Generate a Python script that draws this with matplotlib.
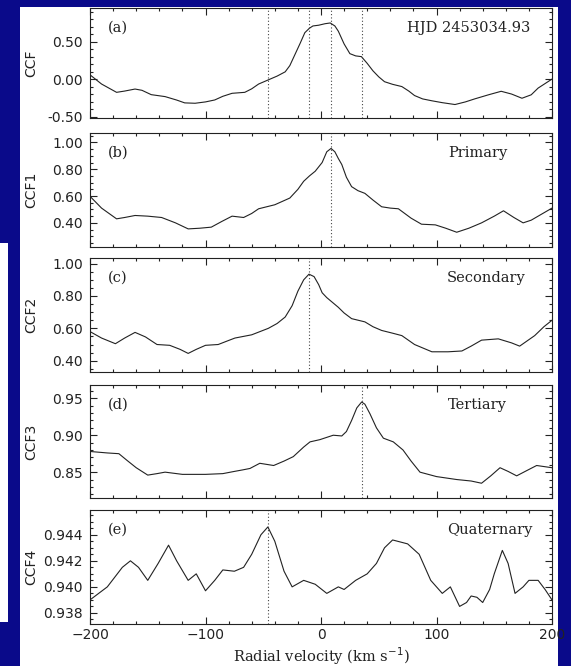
import matplotlib
matplotlib.use("Agg")
import matplotlib.pyplot as plt
from matplotlib.ticker import MultipleLocator, FormatStrFormatter
from matplotlib.patches import Rectangle

# ---------------- data ----------------
ccf_x = [-200, -190, -177, -170, -161, -155, -147, -135, -125, -118, -109, -100, -92, -85, -77,
         -66, -60, -54, -46, -38, -31, -27, -22.5, -18, -14, -10, -7, -2, 3.5, 8, 12, 15, 20,
         25, 30, 35, 40, 45, 50, 55, 62, 70, 76, 81, 88, 96, 105, 116, 125, 133, 145, 156,
         165, 174, 182, 188, 200]
ccf_y = [0.057, -0.066, -0.177, -0.160, -0.133, -0.150, -0.208, -0.234, -0.280, -0.318,
         -0.323, -0.305, -0.279, -0.230, -0.190, -0.177, -0.130, -0.066, -0.013, 0.040, 0.097,
         0.180, 0.330, 0.480, 0.620, 0.680, 0.710, 0.720, 0.740, 0.750, 0.710, 0.640, 0.470,
         0.340, 0.310, 0.300, 0.210, 0.110, 0.030, -0.035, -0.070, -0.100, -0.160, -0.220,
         -0.265, -0.290, -0.315, -0.340, -0.305, -0.265, -0.210, -0.163, -0.200, -0.256,
         -0.210, -0.120, 0.0]

ccf1_x = [-200, -190, -177, -170, -161, -150, -138, -126, -115, -105, -95, -86, -77, -67, -60,
          -54, -40, -27, -20, -15, -10, -5, 1, 5, 8.7, 12, 15, 18, 22, 26.5, 32, 38, 45, 52.5,
          60, 67, 78, 87, 99, 108, 117.5, 128, 139, 150, 158, 167, 175, 182, 188, 200]
ccf1_y = [0.598, 0.51, 0.43, 0.440, 0.455, 0.450, 0.44, 0.40, 0.355, 0.360, 0.368, 0.41,
          0.45, 0.44, 0.470, 0.505, 0.535, 0.585, 0.650, 0.71, 0.750, 0.785, 0.850, 0.930,
          0.955, 0.930, 0.880, 0.835, 0.740, 0.67, 0.640, 0.62, 0.570, 0.52, 0.510, 0.505,
          0.435, 0.39, 0.385, 0.360, 0.33, 0.360, 0.40, 0.450, 0.49, 0.440, 0.40, 0.420,
          0.45, 0.51]

ccf2_x = [-200, -190, -178, -170, -161, -152, -142, -131, -122, -115, -108, -100, -89, -80,
          -74.5, -60, -45.6, -38, -31, -25, -20, -15, -10.4, -6, -2, 1, 5, 10, 15, 20, 26.5,
          38, 45, 52.5, 62, 70, 81, 96, 110, 122, 130, 139, 153.5, 165, 172, 185, 193, 200]
ccf2_y = [0.58, 0.54, 0.505, 0.540, 0.575, 0.547, 0.50, 0.495, 0.470, 0.445, 0.470, 0.495,
          0.50, 0.525, 0.54, 0.56, 0.60, 0.630, 0.67, 0.740, 0.83, 0.900, 0.935, 0.920, 0.87,
          0.820, 0.79, 0.760, 0.73, 0.695, 0.66, 0.64, 0.610, 0.587, 0.570, 0.555, 0.50,
          0.455, 0.455, 0.46, 0.490, 0.527, 0.535, 0.510, 0.49, 0.555, 0.610, 0.65]

ccf3_x = [-200, -185, -175, -168, -160, -150, -142, -135, -120, -100, -85, -75, -68, -61.5,
          -53, -41, -32, -24, -15, -9.5, -1, 10.6, 18, 22, 26.5, 31, 35.2, 38, 42.4, 48, 54,
          62.6, 71, 78, 85.7, 100, 117.5, 130, 139, 147, 155, 162, 169.4, 178, 186.7, 200]
ccf3_y = [0.878, 0.876, 0.875, 0.866, 0.856, 0.846, 0.848, 0.850, 0.847, 0.847, 0.848,
          0.851, 0.853, 0.855, 0.862, 0.859, 0.865, 0.871, 0.884, 0.891, 0.894, 0.900, 0.899,
          0.905, 0.920, 0.937, 0.945, 0.942, 0.929, 0.910, 0.896, 0.891, 0.880, 0.865, 0.850,
          0.844, 0.840, 0.838, 0.835, 0.845, 0.856, 0.851, 0.845, 0.852, 0.859, 0.856]

ccf4_x = [-200, -185, -172, -165, -158, -150, -141, -132, -125, -115, -108, -100, -92, -85,
          -75, -67, -60, -52, -46, -40, -32, -25, -15, -5, 5, 15, 20, 30, 40, 48, 55, 62, 75,
          85, 95, 105, 112, 120, 126, 130, 135, 140, 146, 150, 157, 162, 168, 175, 180, 188,
          194, 200]
ccf4_y = [0.9390, 0.9400, 0.9415, 0.9420, 0.9415, 0.9405, 0.9418, 0.9432, 0.9420, 0.9405,
          0.9410, 0.9397, 0.9405, 0.9413, 0.9412, 0.9415, 0.9425, 0.9440, 0.9446, 0.9435,
          0.9412, 0.9400, 0.9405, 0.9402, 0.9395, 0.9400, 0.9398, 0.9405, 0.9410, 0.9418,
          0.9430, 0.9436, 0.9433, 0.9425, 0.9405, 0.9395, 0.9400, 0.9385, 0.9388, 0.9393,
          0.9392, 0.9388, 0.9398, 0.9410, 0.9428, 0.9418, 0.9395, 0.9400, 0.9405, 0.9405,
          0.9398, 0.9390]

vlines_a = [-46, -10.4, 8.7, 35.5]
vline_b = [8.7]
vline_c = [-10.4]
vline_d = [35.5]
vline_e = [-46]

panel_tags = ["(a)", "(b)", "(c)", "(d)", "(e)"]
panel_names = ["HJD 2453034.93", "Primary", "Secondary", "Tertiary", "Quaternary"]
ylabels = ["CCF", "CCF1", "CCF2", "CCF3", "CCF4"]
xlabel = "Radial velocity (km s$^{-1}$)"

# ---------------- layout ----------------
W, H = 571, 666
fig = plt.figure(figsize=(W / 100, H / 100), dpi=100)
fig.patch.set_facecolor("#0a0a8a")

fig.patches.append(Rectangle((20 / W, 0), (558 - 20) / W, (H - 7) / H,
                             transform=fig.transFigure, facecolor="white",
                             edgecolor="none", zorder=0))
fig.patches.append(Rectangle((0, 1 - 622 / H), 8 / W, (622 - 243) / H,
                             transform=fig.transFigure, facecolor="white",
                             edgecolor="none", zorder=0))

L, R = 90, 552
boxes = [(8, 118), (133, 247), (258, 372), (385, 498), (510, 624)]

series = [(ccf_x, ccf_y), (ccf1_x, ccf1_y), (ccf2_x, ccf2_y), (ccf3_x, ccf3_y), (ccf4_x, ccf4_y)]
vls = [vlines_a, vline_b, vline_c, vline_d, vline_e]
ylims = [(-0.52, 0.95), (0.22, 1.07), (0.33, 1.035), (0.815, 0.968), (0.93715, 0.9459)]
ymaj = [0.5, 0.2, 0.2, 0.05, 0.002]
ymin = [0.1, 0.05, 0.05, 0.01, 0.0005]
yfmt = ["%.2f", "%.2f", "%.2f", "%.2f", "%.3f"]
name_x = [530, 507, 525, 507, 532]

for i, (top, bot) in enumerate(boxes):
    ax = fig.add_axes([L / W, 1 - bot / H, (R - L) / W, (bot - top) / H])
    ax.set_zorder(2)
    x, y = series[i]
    ax.plot(x, y, color="#222222", lw=0.8, solid_joinstyle="round")
    for v in vls[i]:
        ax.axvline(v, color="#444444", lw=0.8, ls=(0, (1, 2)))
    ax.set_xlim(-200, 200)
    ax.set_ylim(*ylims[i])
    ax.xaxis.set_major_locator(MultipleLocator(100))
    ax.xaxis.set_minor_locator(MultipleLocator(20))
    ax.yaxis.set_major_locator(MultipleLocator(ymaj[i]))
    ax.yaxis.set_minor_locator(MultipleLocator(ymin[i]))
    ax.yaxis.set_major_formatter(FormatStrFormatter(yfmt[i]))
    ax.tick_params(which="both", direction="in", top=True, right=True, width=0.8,
                   labelsize=10, colors="#222222")
    ax.tick_params(which="major", length=5)
    ax.tick_params(which="minor", length=2.5)
    ax.tick_params(axis="y", pad=5)
    ax.tick_params(axis="x", pad=3)
    for s in ax.spines.values():
        s.set_linewidth(0.8)
        s.set_color("#222222")
    if i < 4:
        ax.tick_params(labelbottom=False)
    ax.annotate(panel_tags[i], xy=(0, 1), xycoords="axes fraction",
                xytext=(18, -20), textcoords="offset pixels",
                ha="left", va="center", fontsize=10.5, family="DejaVu Serif", color="#222222")
    ax.annotate(panel_names[i], xy=(0, 1), xycoords="axes fraction",
                xytext=(name_x[i] - L, -20), textcoords="offset pixels",
                ha="right", va="center", fontsize=10.5, family="DejaVu Serif", color="#222222")
    fig.text(31 / W, 1 - (top + bot) / 2 / H, ylabels[i], rotation=90, ha="center",
             va="center", fontsize=10, color="#222222")
    if i == 4:
        ax.set_xlabel(xlabel, fontsize=10.5, family="DejaVu Serif", color="#222222",
                      labelpad=2)

fig.savefig("out.png", dpi=100, facecolor=fig.get_facecolor())
